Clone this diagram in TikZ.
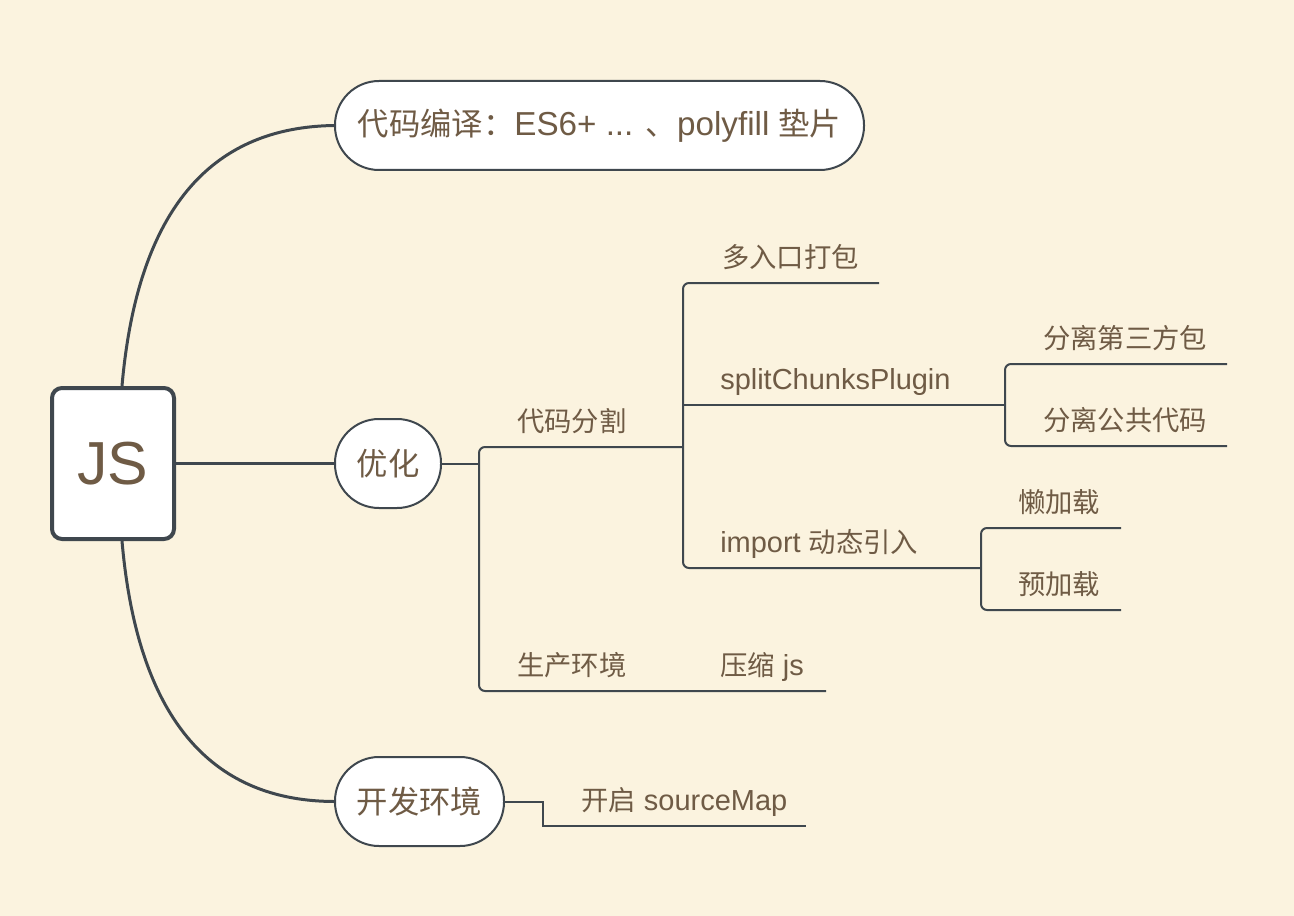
\documentclass[tikz,border=0pt]{standalone}
\usepackage{fontspec}
\setmainfont{Liberation Sans}[Scale=1.06]
\newfontfamily\cjk{Noto Sans CJK SC}
\usepackage{tikz}
\definecolor{bg}{HTML}{FBF3DF}
\definecolor{ink}{HTML}{6F5B45}
\definecolor{wire}{HTML}{3F474E}

\begin{document}
\begin{tikzpicture}[x=0.75pt,y=-0.75pt,
  trunk/.style={draw=wire,line width=2.25pt},
  branch/.style={draw=wire,line width=1.5pt,rounded corners=4.5pt},
  topic/.style={draw=wire,line width=1.5pt,fill=white,text=ink,font=\fontsize{23.5}{27}\selectfont,minimum height=66.75pt,rounded corners=33pt,inner sep=0pt},
  leaf/.style={text=ink,font=\fontsize{20.5}{24}\selectfont,anchor=base west,inner sep=0pt}]

  \fill[bg] (0,0) rectangle (1294,916);

  \node[draw=wire,line width=3pt,fill=white,rounded corners=7.5pt,minimum width=91.5pt,minimum height=113.25pt,text=ink,font=\fontsize{43}{52}\selectfont] (js) at (113,463.5) {JS};
  \node[topic,minimum width=396.75pt] (by) at (599.5,125.5) {{\cjk 代码编译：}ES6+ ... {\cjk 、}polyfill {\cjk 垫片}};
  \node[topic,minimum width=79.5pt]   (yh) at (388,463.5)   {\cjk 优化};
  \node[topic,minimum width=126.75pt] (kf) at (419.5,801.5) {\cjk 开发环境};

  % forks and line ends
  \coordinate (f1) at (479,463.5);
  \coordinate (f2) at (683,447);
  \coordinate (f3) at (1005,405);
  \coordinate (f4) at (981,568);
  \coordinate (f5) at (543,826);
  \coordinate (e-dk)   at (879,283);
  \coordinate (e-dsf)  at (1227,364);
  \coordinate (e-ggdm) at (1227,446);
  \coordinate (e-lj)   at (1121,528);
  \coordinate (e-yj)   at (1121,610);
  \coordinate (e-ys)   at (826,691);
  \coordinate (e-sm)   at (806,826);

  \node[leaf] (dmfg) at (517,431)  {\cjk 代码分割};
  \node[leaf] (scjs) at (517,675)  {\cjk 生产环境};
  \node[leaf] (ysjs) at (720,675)  {{\cjk 压缩} js};
  \node[leaf] (dk)   at (722,267)  {\cjk 多入口打包};
  \node[leaf] (sc)   at (720,389)  {splitChunksPlugin};
  \node[leaf] (imp)  at (720,552)  {import {\cjk 动态引入}};
  \node[leaf] (dsf)  at (1043,348) {\cjk 分离第三方包};
  \node[leaf] (ggdm) at (1043,430) {\cjk 分离公共代码};
  \node[leaf] (lj)   at (1018,512) {\cjk 懒加载};
  \node[leaf] (yj)   at (1018,594) {\cjk 预加载};
  \node[leaf] (sm)   at (581,810)  {{\cjk 开启} sourceMap};

  \draw[trunk] ([xshift=6.75pt]js.north) .. controls (140,180) and (235,127) .. (by.west);
  \draw[trunk] (js.east) -- (yh.west);
  \draw[trunk] ([xshift=6.75pt]js.south) .. controls (140,748) and (235,801) .. (kf.west);

  \draw[branch] (yh.east) -- (f1);
  \draw[branch] (f2) -- (f1 |- f2) -- (f1 |- e-ys) -- (e-ys);
  \draw[branch] (e-dk) -- (f2 |- e-dk) -- (f2 |- f4) -- (f4);
  \draw[branch] (f2 |- f3) -- (f3);
  \draw[branch] (e-dsf) -- (f3 |- e-dsf) -- (f3 |- e-ggdm) -- (e-ggdm);
  \draw[branch] (e-lj) -- (f4 |- e-lj) -- (f4 |- e-yj) -- (e-yj);
  \draw[branch,sharp corners] (kf.east) -| (f5) -- (e-sm);
\end{tikzpicture}
\end{document}
